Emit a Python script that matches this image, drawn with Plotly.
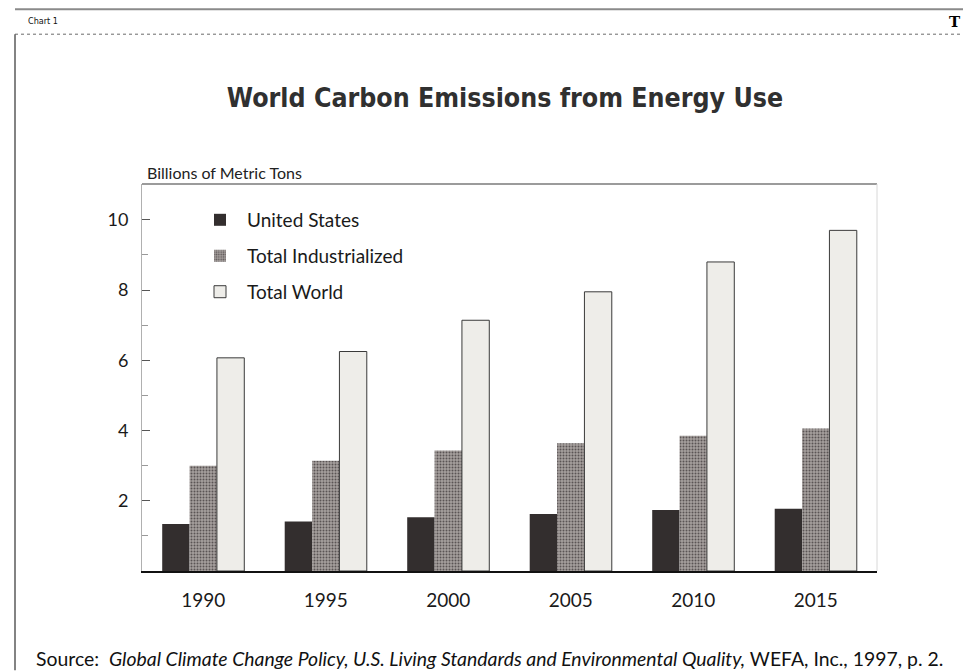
import plotly.graph_objects as go

years = ["1990", "1995", "2000", "2005", "2010", "2015"]
us = [1.34, 1.41, 1.53, 1.62, 1.74, 1.77]
industrialized = [3.00, 3.14, 3.43, 3.64, 3.85, 4.06]
world = [6.07, 6.25, 7.14, 7.95, 8.80, 9.70]
series_names = ["United States", "Total Industrialized", "Total World"]
y_ticks = [2, 4, 6, 8, 10]

W, H = 963, 671
L, R, T, B = 142, 877, 184, 571.5

def px(x):
    return (x - L) / (R - L)

def py(y):
    return (B - y) / (B - T)

FONT = "Lato"
COND = "DejaVu Sans Condensed, Liberation Sans Narrow, Roboto, sans-serif"

fig = go.Figure()
fig.add_trace(go.Bar(x=years, y=us, name=series_names[0], legend="legend",
                     marker=dict(color="#332e2e", line=dict(width=0))))
fig.add_trace(go.Bar(x=years, y=industrialized, name=series_names[1], legend="legend2",
                     marker=dict(color="#9a9492", line=dict(width=0),
                                 pattern=dict(shape=".", fgcolor="#5a5454", bgcolor="#a6a09e",
                                              size=3, solidity=0.35, fillmode="replace"))))
fig.add_trace(go.Bar(x=years, y=world, name=series_names[2], legend="legend3",
                     marker=dict(color="#eeede9", line=dict(width=1, color="#3a3a3a"))))

shapes = [
    dict(type="line", xref="paper", yref="paper", x0=0, x1=1, y0=1, y1=1,
         line=dict(color="#7a7a7a", width=1.5)),
    dict(type="line", xref="paper", yref="paper", x0=1, x1=1, y0=0, y1=1,
         line=dict(color="#d8d8d8", width=1)),
    dict(type="line", xref="paper", yref="paper", x0=px(15), x1=px(963), y0=py(9), y1=py(9),
         line=dict(color="#8a8a8a", width=2)),
    dict(type="line", xref="paper", yref="paper", x0=px(15), x1=px(963), y0=py(34), y1=py(34),
         line=dict(color="#6a6a6a", width=1, dash="dot")),
    dict(type="line", xref="paper", yref="paper", x0=px(15), x1=px(15), y0=py(34), y1=py(671),
         line=dict(color="#5a5a5a", width=1.5)),
]

annotations = [
    dict(text="Billions of Metric Tons", xref="paper", yref="paper", x=px(145), y=py(172),
         xanchor="left", yanchor="middle", showarrow=False,
         font=dict(family=FONT, size=16, color="#222")),
    dict(text="Source:  <i>Global Climate Change Policy, U.S. Living Standards and Environmental Quality,</i> WEFA, Inc., 1997, p. 2.",
         xref="paper", yref="paper", x=px(34), y=py(659), xanchor="left", yanchor="middle",
         showarrow=False, font=dict(family=FONT, size=19.4, color="#111")),
    dict(text="Chart 1", xref="paper", yref="paper", x=px(26), y=py(21), xanchor="left",
         yanchor="middle", showarrow=False, font=dict(family=COND, size=9, color="#111")),
    dict(text="<b>T</b>", xref="paper", yref="paper", x=px(955), y=py(22), xanchor="center",
         yanchor="middle", showarrow=False, font=dict(family="DejaVu Serif", size=15, color="#000")),
]

def leg(ycenter):
    return dict(x=px(193), y=py(ycenter), xanchor="left", yanchor="middle",
                font=dict(family=FONT, size=19, color="#1a1a1a"),
                bgcolor="rgba(0,0,0,0)", itemwidth=44)

fig.update_layout(
    width=W, height=H,
    margin=dict(l=L, r=W - R, t=T, b=H - B, pad=0),
    paper_bgcolor="white", plot_bgcolor="white",
    barmode="group", bargap=0.33, bargroupgap=0,
    title=dict(text="<b>World Carbon Emissions from Energy Use</b>", xref="container", yref="container",
               x=505 / W, y=1 - 98 / H, xanchor="center", yanchor="middle",
               font=dict(family=COND, size=26.5, color="#303030")),
    legend=leg(220), legend2=leg(256), legend3=leg(292),
    shapes=shapes, annotations=annotations,
    showlegend=True,
)
fig.update_xaxes(range=[-0.5, 5.5], showline=True, linecolor="#111", linewidth=1.5,
                 ticks="", showgrid=False, zeroline=False,
                 tickfont=dict(family=FONT, size=19, color="#1a1a1a"), ticklabelstandoff=11)
fig.update_yaxes(range=[0, 11.02], showline=True, linecolor="#b0b0b0", linewidth=1,
                 tickvals=y_ticks, ticks="inside", ticklen=8, tickcolor="#555", tickwidth=1,
                 minor=dict(tickvals=[1, 3, 5, 7, 9], ticks="inside", ticklen=6, tickcolor="#999"),
                 showgrid=False, zeroline=False,
                 tickfont=dict(family=FONT, size=18, color="#1a1a1a"), ticklabelstandoff=9)

fig.write_html("out.html")
